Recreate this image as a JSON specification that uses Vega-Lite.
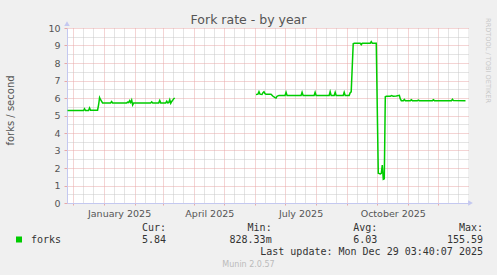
{
  "$schema": "https://vega.github.io/schema/vega-lite/v6.json",
  "width": 401,
  "height": 175,
  "autosize": {"type": "none"},
  "padding": {"left": 67, "top": 28, "right": 29, "bottom": 72},
  "background": "#F0F0F0",
  "config": {"view": {"fill": "#FFFFFF", "stroke": null}, "font": "DejaVu Sans"},
  "title": {"text": "Fork rate - by year", "font": "DejaVu Sans", "fontSize": 12.5, "fontWeight": "normal", "color": "#555555", "anchor": "middle", "frame": "group", "dx": -19, "offset": -9},
  "layer": [
    {
      "data": {
        "format": {"parse": {"t": "date:'%Y-%m-%d'"}},
        "values": [
          {"t": "2024-11-26", "v": 5.28, "seg": "a"},
          {"t": "2024-12-05", "v": 5.28, "seg": "a"},
          {"t": "2024-12-12", "v": 5.28, "seg": "a"},
          {"t": "2024-12-13", "v": 5.38, "seg": "a"},
          {"t": "2024-12-14", "v": 5.28, "seg": "a"},
          {"t": "2024-12-17", "v": 5.28, "seg": "a"},
          {"t": "2024-12-18", "v": 5.43, "seg": "a"},
          {"t": "2024-12-19", "v": 5.3, "seg": "a"},
          {"t": "2024-12-26", "v": 5.3, "seg": "a"},
          {"t": "2024-12-27", "v": 5.6, "seg": "a"},
          {"t": "2024-12-28", "v": 6.02, "seg": "a"},
          {"t": "2024-12-29", "v": 5.9, "seg": "a"},
          {"t": "2024-12-31", "v": 5.72, "seg": "a"},
          {"t": "2025-01-08", "v": 5.72, "seg": "a"},
          {"t": "2025-01-09", "v": 5.8, "seg": "a"},
          {"t": "2025-01-10", "v": 5.72, "seg": "a"},
          {"t": "2025-01-24", "v": 5.72, "seg": "a"},
          {"t": "2025-01-25", "v": 5.76, "seg": "a"},
          {"t": "2025-01-26", "v": 5.74, "seg": "a"},
          {"t": "2025-01-27", "v": 5.85, "seg": "a"},
          {"t": "2025-01-28", "v": 5.74, "seg": "a"},
          {"t": "2025-01-29", "v": 5.88, "seg": "a"},
          {"t": "2025-01-30", "v": 5.6, "seg": "a"},
          {"t": "2025-01-31", "v": 5.72, "seg": "a"},
          {"t": "2025-02-17", "v": 5.72, "seg": "a"},
          {"t": "2025-02-18", "v": 5.78, "seg": "a"},
          {"t": "2025-02-19", "v": 5.72, "seg": "a"},
          {"t": "2025-02-25", "v": 5.72, "seg": "a"},
          {"t": "2025-02-26", "v": 5.86, "seg": "a"},
          {"t": "2025-02-27", "v": 5.72, "seg": "a"},
          {"t": "2025-03-04", "v": 5.72, "seg": "a"},
          {"t": "2025-03-05", "v": 5.82, "seg": "a"},
          {"t": "2025-03-06", "v": 5.72, "seg": "a"},
          {"t": "2025-03-07", "v": 5.74, "seg": "a"},
          {"t": "2025-03-08", "v": 5.9, "seg": "a"},
          {"t": "2025-03-09", "v": 5.7, "seg": "a"},
          {"t": "2025-03-10", "v": 5.8, "seg": "a"},
          {"t": "2025-03-11", "v": 5.88, "seg": "a"},
          {"t": "2025-03-12", "v": 5.96, "seg": "a"},
          {"t": "2025-03-13", "v": 6.0, "seg": "a"},
          {"t": "2025-06-02", "v": 6.2, "seg": "b"},
          {"t": "2025-06-04", "v": 6.22, "seg": "b"},
          {"t": "2025-06-05", "v": 6.36, "seg": "b"},
          {"t": "2025-06-06", "v": 6.22, "seg": "b"},
          {"t": "2025-06-08", "v": 6.2, "seg": "b"},
          {"t": "2025-06-09", "v": 6.3, "seg": "b"},
          {"t": "2025-06-10", "v": 6.36, "seg": "b"},
          {"t": "2025-06-11", "v": 6.25, "seg": "b"},
          {"t": "2025-06-12", "v": 6.22, "seg": "b"},
          {"t": "2025-06-17", "v": 6.22, "seg": "b"},
          {"t": "2025-06-19", "v": 6.1, "seg": "b"},
          {"t": "2025-06-21", "v": 6.02, "seg": "b"},
          {"t": "2025-06-22", "v": 6.0, "seg": "b"},
          {"t": "2025-06-23", "v": 6.1, "seg": "b"},
          {"t": "2025-06-25", "v": 6.15, "seg": "b"},
          {"t": "2025-07-01", "v": 6.15, "seg": "b"},
          {"t": "2025-07-02", "v": 6.33, "seg": "b"},
          {"t": "2025-07-03", "v": 6.15, "seg": "b"},
          {"t": "2025-07-17", "v": 6.15, "seg": "b"},
          {"t": "2025-07-18", "v": 6.33, "seg": "b"},
          {"t": "2025-07-19", "v": 6.15, "seg": "b"},
          {"t": "2025-07-30", "v": 6.15, "seg": "b"},
          {"t": "2025-07-31", "v": 6.33, "seg": "b"},
          {"t": "2025-08-01", "v": 6.15, "seg": "b"},
          {"t": "2025-08-14", "v": 6.15, "seg": "b"},
          {"t": "2025-08-15", "v": 6.36, "seg": "b"},
          {"t": "2025-08-16", "v": 6.15, "seg": "b"},
          {"t": "2025-08-19", "v": 6.15, "seg": "b"},
          {"t": "2025-08-20", "v": 6.33, "seg": "b"},
          {"t": "2025-08-21", "v": 6.15, "seg": "b"},
          {"t": "2025-08-28", "v": 6.15, "seg": "b"},
          {"t": "2025-08-29", "v": 6.33, "seg": "b"},
          {"t": "2025-08-30", "v": 6.15, "seg": "b"},
          {"t": "2025-09-03", "v": 6.15, "seg": "b"},
          {"t": "2025-09-04", "v": 6.3, "seg": "b"},
          {"t": "2025-09-05", "v": 6.35, "seg": "b"},
          {"t": "2025-09-07", "v": 9.1, "seg": "b"},
          {"t": "2025-09-08", "v": 9.13, "seg": "b"},
          {"t": "2025-09-14", "v": 9.13, "seg": "b"},
          {"t": "2025-09-15", "v": 9.05, "seg": "b"},
          {"t": "2025-09-16", "v": 9.13, "seg": "b"},
          {"t": "2025-09-24", "v": 9.13, "seg": "b"},
          {"t": "2025-09-25", "v": 9.22, "seg": "b"},
          {"t": "2025-09-26", "v": 9.13, "seg": "b"},
          {"t": "2025-09-30", "v": 9.13, "seg": "b"},
          {"t": "2025-10-02", "v": 1.7, "seg": "b"},
          {"t": "2025-10-04", "v": 1.66, "seg": "b"},
          {"t": "2025-10-05", "v": 1.7, "seg": "b"},
          {"t": "2025-10-06", "v": 2.17, "seg": "b"},
          {"t": "2025-10-07", "v": 1.35, "seg": "b"},
          {"t": "2025-10-08", "v": 1.38, "seg": "b"},
          {"t": "2025-10-09", "v": 6.07, "seg": "b"},
          {"t": "2025-10-10", "v": 6.1, "seg": "b"},
          {"t": "2025-10-14", "v": 6.1, "seg": "b"},
          {"t": "2025-10-15", "v": 6.14, "seg": "b"},
          {"t": "2025-10-17", "v": 6.1, "seg": "b"},
          {"t": "2025-10-20", "v": 6.12, "seg": "b"},
          {"t": "2025-10-23", "v": 6.15, "seg": "b"},
          {"t": "2025-10-24", "v": 5.95, "seg": "b"},
          {"t": "2025-10-25", "v": 5.85, "seg": "b"},
          {"t": "2025-10-27", "v": 5.85, "seg": "b"},
          {"t": "2025-10-28", "v": 5.92, "seg": "b"},
          {"t": "2025-10-29", "v": 5.85, "seg": "b"},
          {"t": "2025-11-03", "v": 5.85, "seg": "b"},
          {"t": "2025-11-04", "v": 5.9, "seg": "b"},
          {"t": "2025-11-05", "v": 5.85, "seg": "b"},
          {"t": "2025-11-10", "v": 5.85, "seg": "b"},
          {"t": "2025-11-11", "v": 5.88, "seg": "b"},
          {"t": "2025-11-12", "v": 5.85, "seg": "b"},
          {"t": "2025-11-25", "v": 5.85, "seg": "b"},
          {"t": "2025-11-26", "v": 5.9, "seg": "b"},
          {"t": "2025-11-27", "v": 5.85, "seg": "b"},
          {"t": "2025-12-14", "v": 5.85, "seg": "b"},
          {"t": "2025-12-15", "v": 5.93, "seg": "b"},
          {"t": "2025-12-16", "v": 5.85, "seg": "b"},
          {"t": "2025-12-28", "v": 5.84, "seg": "b"}
        ]
      },
      "layer": [
        {
          "mark": {"type": "point", "opacity": 0},
          "encoding": {
            "x": {
              "field": "t", "type": "temporal",
              "axis": {
                "orient": "top",
                "values": [
                  {"year": 2024, "month": 12, "date": 11}, {"year": 2024, "month": 12, "date": 21},
                  {"year": 2025, "month": 1, "date": 11}, {"year": 2025, "month": 1, "date": 21},
                  {"year": 2025, "month": 2, "date": 11}, {"year": 2025, "month": 2, "date": 21},
                  {"year": 2025, "month": 3, "date": 11}, {"year": 2025, "month": 3, "date": 21},
                  {"year": 2025, "month": 4, "date": 11}, {"year": 2025, "month": 4, "date": 21},
                  {"year": 2025, "month": 5, "date": 11}, {"year": 2025, "month": 5, "date": 21},
                  {"year": 2025, "month": 6, "date": 11}, {"year": 2025, "month": 6, "date": 21},
                  {"year": 2025, "month": 7, "date": 11}, {"year": 2025, "month": 7, "date": 21},
                  {"year": 2025, "month": 8, "date": 11}, {"year": 2025, "month": 8, "date": 21},
                  {"year": 2025, "month": 9, "date": 11}, {"year": 2025, "month": 9, "date": 21},
                  {"year": 2025, "month": 10, "date": 11}, {"year": 2025, "month": 10, "date": 21},
                  {"year": 2025, "month": 11, "date": 11}, {"year": 2025, "month": 11, "date": 21},
                  {"year": 2025, "month": 12, "date": 11}, {"year": 2025, "month": 12, "date": 21}
                ],
                "grid": true, "gridColor": "#C8C8C8", "gridDash": [1, 1], "gridOpacity": 1,
                "labels": false, "ticks": false, "domain": false, "title": null
              }
            },
            "y": {
              "field": "v", "type": "quantitative",
              "axis": {
                "orient": "right",
                "values": [0.5, 1.5, 2.5, 3.5, 4.5, 5.5, 6.5, 7.5, 8.5, 9.5],
                "grid": true, "gridColor": "#C8C8C8", "gridDash": [1, 1], "gridOpacity": 1,
                "labels": false, "ticks": false, "domain": false,
                "title": "RRDTOOL / TOBI OETIKER", "titleAngle": 90, "titleX": 19, "titleY": 32,
                "titleAlign": "center", "titleBaseline": "middle", "titleFont": "DejaVu Sans",
                "titleFontSize": 6.6, "titleFontWeight": "normal", "titleColor": "#C8C8C8"
              }
            }
          }
        },
        {
          "mark": {"type": "line", "strokeWidth": 1.5},
          "encoding": {
            "x": {
              "field": "t", "type": "temporal",
              "scale": {"domain": [{"year": 2024, "month": 11, "date": 25, "hours": 12}, {"year": 2025, "month": 12, "date": 30, "hours": 12}], "nice": false},
              "axis": {
                "orient": "bottom",
                "values": [
                  {"year": 2024, "month": 12, "date": 1}, {"year": 2025, "month": 1, "date": 1},
                  {"year": 2025, "month": 2, "date": 1}, {"year": 2025, "month": 3, "date": 1},
                  {"year": 2025, "month": 4, "date": 1}, {"year": 2025, "month": 5, "date": 1},
                  {"year": 2025, "month": 6, "date": 1}, {"year": 2025, "month": 7, "date": 1},
                  {"year": 2025, "month": 8, "date": 1}, {"year": 2025, "month": 9, "date": 1},
                  {"year": 2025, "month": 10, "date": 1}, {"year": 2025, "month": 11, "date": 1},
                  {"year": 2025, "month": 12, "date": 1}
                ],
                "grid": true, "gridColor": "#E8A8A8", "gridDash": [1, 1], "gridOpacity": 1,
                "ticks": true, "tickColor": "#E8A8A8", "tickSize": 2,
                "labelExpr": "month(datum.value) % 3 == 0 ? timeFormat(datum.value, '%B %Y') : ''",
                "labelOffset": 15.5, "labelPadding": 3, "labelFont": "DejaVu Sans", "labelFontSize": 9.5,
                "labelColor": "#555555", "labelOverlap": false, "labelFlush": false, "labelBound": false,
                "domainColor": "#C4C8F0",
                "title": "Munin 2.0.57", "titleX": 181, "titleY": 63.7, "titleAlign": "center",
                "titleBaseline": "alphabetic", "titleFont": "DejaVu Sans", "titleFontSize": 8,
                "titleFontWeight": "normal", "titleColor": "#BBBBBB"
              }
            },
            "y": {
              "field": "v", "type": "quantitative",
              "scale": {"domain": [0, 10], "nice": false},
              "axis": {
                "orient": "left",
                "values": [0, 1, 2, 3, 4, 5, 6, 7, 8, 9, 10],
                "grid": true, "gridColor": "#E8A8A8", "gridDash": [1, 1], "gridOpacity": 1,
                "ticks": true, "tickColor": "#E8A8A8", "tickSize": 3,
                "labelPadding": 4, "labelFont": "DejaVu Sans", "labelFontSize": 9.5, "labelColor": "#555555",
                "domainColor": "#C4C8F0",
                "title": "forks / second", "titleX": -57, "titleY": 82, "titleAngle": -90,
                "titleAlign": "center", "titleBaseline": "middle", "titleFont": "DejaVu Sans",
                "titleFontSize": 10, "titleFontWeight": "normal", "titleColor": "#555555"
              }
            },
            "detail": {"field": "seg"},
            "color": {
              "datum": "forks", "type": "nominal",
              "scale": {"range": ["#00CC00"]},
              "legend": {
                "orient": "none", "legendX": -53, "legendY": 206.5, "title": null, "padding": 0,
                "symbolType": "square", "symbolSize": 36, "symbolStrokeWidth": 0,
                "labelFont": "DejaVu Sans Mono", "labelFontSize": 10, "labelColor": "#333333", "labelOffset": 7,
                "encode": {"symbols": {"update": {"fill": {"value": "#00CC00"}, "shape": {"value": "square"}, "strokeWidth": {"value": 0}, "opacity": {"value": 1}}}}
              }
            }
          }
        },
        {
          "data": {"values": [{}]},
          "mark": {"type": "point", "shape": "triangle-up", "filled": true, "color": "#C4C8F0", "size": 30, "opacity": 1},
          "encoding": {
            "x": {"datum": {"year": 2024, "month": 11, "date": 25, "hours": 12}, "type": "temporal", "axis": null},
            "y": {"datum": 10.25, "type": "quantitative", "axis": null}
          }
        },
        {
          "data": {"values": [{}]},
          "mark": {"type": "point", "shape": "triangle-right", "filled": true, "color": "#C4C8F0", "size": 30, "opacity": 1},
          "encoding": {
            "x": {"datum": {"year": 2026, "month": 1, "date": 2}, "type": "temporal", "axis": null},
            "y": {"datum": 0, "type": "quantitative", "axis": null}
          }
        }
      ],
      "resolve": {"axis": {"x": "independent", "y": "independent"}}
    },
    {
      "data": {
        "values": [
          {"row": "head", "stat": "Cur", "text": "Cur:\u00a0\u00a0"},
          {"row": "head", "stat": "Min", "text": "Min:\u00a0\u00a0"},
          {"row": "head", "stat": "Avg", "text": "Avg:\u00a0\u00a0"},
          {"row": "head", "stat": "Max", "text": "Max:\u00a0\u00a0"},
          {"row": "val", "stat": "Cur", "text": "5.84\u00a0"},
          {"row": "val", "stat": "Min", "text": "828.33m"},
          {"row": "val", "stat": "Avg", "text": "6.03\u00a0"},
          {"row": "val", "stat": "Max", "text": "155.59\u00a0"},
          {"row": "upd", "stat": "Max", "text": "Last update: Mon Dec 29 03:40:07 2025"}
        ]
      },
      "mark": {"type": "text", "align": "right", "baseline": "alphabetic", "font": "DejaVu Sans Mono", "fontSize": 10, "color": "#333333"},
      "encoding": {
        "x": {"field": "stat", "type": "nominal", "scale": {"type": "point", "domain": ["Cur", "Min", "Avg", "Max"], "range": [99, 416], "padding": 0}, "axis": null},
        "y": {"field": "row", "type": "nominal", "scale": {"type": "point", "domain": ["head", "val", "upd"], "range": [203, 227], "padding": 0}, "axis": null},
        "text": {"field": "text"}
      }
    }
  ],
  "resolve": {"scale": {"x": "independent", "y": "independent"}}
}
